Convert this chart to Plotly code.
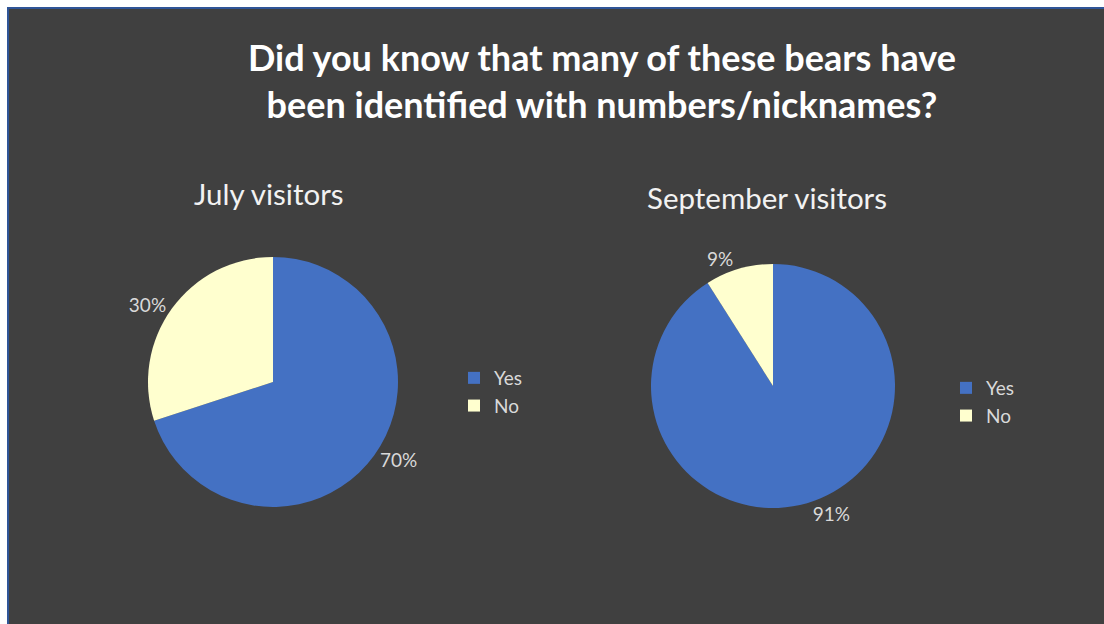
import plotly.graph_objects as go

# Survey answers per visitor group
labels = ["Yes", "No"]
july_values = [70, 30]
september_values = [91, 9]

title_lines = ["Did you know that many of these bears have",
               "been identified with numbers/nicknames?"]
july_title = "July visitors"
september_title = "September visitors"

W, H = 1104, 624
BG = "#404040"
YES_COLOR = "#4471C3"
NO_COLOR = "#FFFFCF"
LABEL_COLOR = "#D9D9D9"
FONT = "Lato"


def px_x(x):
    return x / W


def px_y(y):
    return 1 - y / H


def domain(cx, cy, r):
    return dict(x=[px_x(cx - r), px_x(cx + r)], y=[px_y(cy + r), px_y(cy - r)])


fig = go.Figure()

pie_common = dict(
    labels=labels,
    sort=False,
    direction="clockwise",
    rotation=0,
    textinfo="percent",
    texttemplate="%{percent:.0%}",
    textposition="outside",
    textfont=dict(family=FONT, size=19, color=LABEL_COLOR),
    marker=dict(colors=[YES_COLOR, NO_COLOR], line=dict(width=0)),
    hoverinfo="label+percent",
)

fig.add_trace(go.Pie(values=july_values, domain=domain(273, 382, 125),
                     legend="legend", legendgroup="july",
                     name=july_title, **pie_common))
fig.add_trace(go.Pie(values=september_values, domain=domain(773, 386, 122),
                     legend="legend2", legendgroup="september",
                     name=september_title, **pie_common))

legend_common = dict(
    bgcolor="rgba(0,0,0,0)",
    font=dict(family=FONT, size=19, color=LABEL_COLOR),
    xanchor="left",
    yanchor="middle",
    itemwidth=30,
    tracegroupgap=0,
    visible=True,
)

fig.update_layout(
    width=W,
    height=H,
    margin=dict(l=0, r=0, t=0, b=0),
    paper_bgcolor="white",
    plot_bgcolor="rgba(0,0,0,0)",
    showlegend=True,
    legend=dict(x=px_x(454), y=px_y(392), **legend_common),
    legend2=dict(x=px_x(946), y=px_y(402), **legend_common),
    shapes=[
        # dark chart panel with a thin blue frame
        dict(type="rect", xref="paper", yref="paper", layer="below",
             x0=px_x(8), x1=1.01, y0=-0.01, y1=px_y(8),
             fillcolor=BG, line=dict(color="#2F5597", width=2)),
    ],
    annotations=[
        dict(text="<b>" + "<br>".join(title_lines) + "</b>",
             x=px_x(602), y=px_y(81), xref="paper", yref="paper",
             xanchor="center", yanchor="middle", showarrow=False,
             font=dict(family=FONT, size=36, color="#FFFFFF")),
        dict(text=july_title, x=px_x(269), y=px_y(193), xref="paper", yref="paper",
             xanchor="center", yanchor="middle", showarrow=False,
             font=dict(family=FONT, size=29.5, color="#F2F2F2")),
        dict(text=september_title, x=px_x(767), y=px_y(197), xref="paper", yref="paper",
             xanchor="center", yanchor="middle", showarrow=False,
             font=dict(family=FONT, size=29.5, color="#F2F2F2")),
    ],
)

fig.write_html("out.html")
